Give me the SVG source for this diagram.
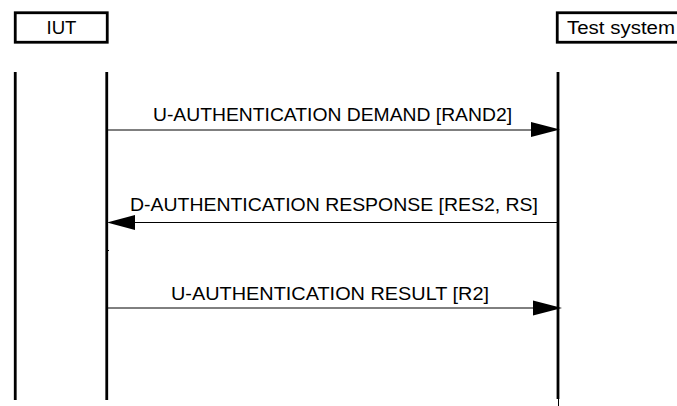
<svg xmlns="http://www.w3.org/2000/svg" width="677" height="406" viewBox="0 0 677 406">
<style>
.box{fill:#fff;stroke:#000;stroke-width:2.8}
.life{stroke:#000;stroke-width:2.8}
.msg{stroke:#000;stroke-width:1}
.head{fill:#000}
text{font-family:"Liberation Sans",Arial,sans-serif;font-size:17.5px;fill:#000}
</style>
<rect width="677" height="406" fill="#fff"/>
<g id="iut">
<rect class="box" x="15.25" y="12.75" width="92" height="29.5"/>
<text x="46.5" y="34" textLength="30" lengthAdjust="spacingAndGlyphs">IUT</text>
<line class="life" x1="15.25" y1="72" x2="15.25" y2="400"/>
<line class="life" x1="106.75" y1="72" x2="106.75" y2="400"/>
<line x1="107" y1="250.5" x2="109" y2="250.5" stroke="#000" stroke-width="1"/>
</g>
<g id="test-system">
<rect class="box" x="557.25" y="12.75" width="140" height="29.5"/>
<text x="567" y="34" textLength="108" lengthAdjust="spacingAndGlyphs">Test system</text>
<line class="life" x1="558" y1="72" x2="558" y2="399"/>
<line x1="558.5" y1="399" x2="558.5" y2="406" stroke="#000" stroke-width="1"/>
</g>
<g id="connectors">
<g id="msg1">
<line class="msg" x1="107" y1="130" x2="532" y2="130" stroke="#808080"/>
<polygon class="head" points="531,122 560,129.5 531,137"/>
<text x="153" y="121" textLength="359" lengthAdjust="spacingAndGlyphs">U-AUTHENTICATION DEMAND [RAND2]</text>
</g>
<g id="msg2">
<line class="msg" x1="558" y1="222.5" x2="134" y2="222.5"/>
<polygon class="head" points="135,215 107,222.5 135,230"/>
<text x="130" y="211" textLength="408" lengthAdjust="spacingAndGlyphs">D-AUTHENTICATION RESPONSE [RES2, RS]</text>
</g>
<g id="msg3">
<line class="msg" x1="107" y1="308" x2="534" y2="308" stroke="#808080"/>
<polygon class="head" points="533,300.5 562,308 533,315.5"/>
<text x="171" y="300" textLength="318" lengthAdjust="spacingAndGlyphs">U-AUTHENTICATION RESULT [R2]</text>
</g>
</g>
</svg>
